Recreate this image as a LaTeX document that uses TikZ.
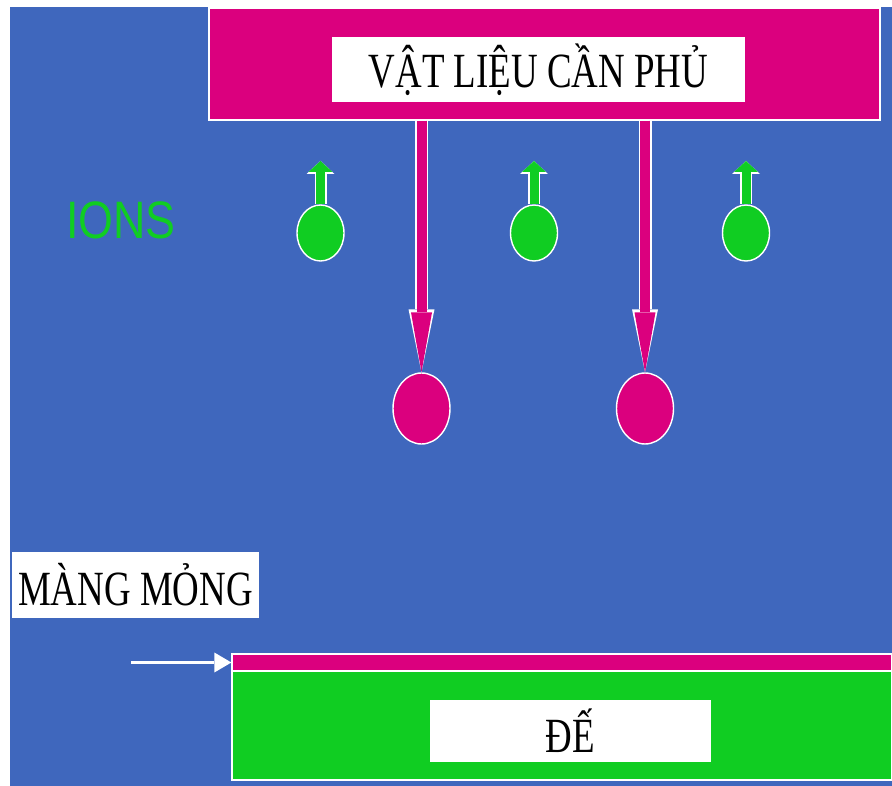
\documentclass[tikz,border=0pt]{standalone}
\usepackage{fontspec}
\setmainfont{Liberation Serif}
\newfontfamily\narrowserif[FakeStretch=0.75]{Liberation Serif}
\newfontfamily\narrowsans[FakeStretch=0.85]{Liberation Sans}
\usepackage{xcolor}
\usepackage{tikz}
\usetikzlibrary{positioning, arrows.meta, shapes.geometric}

\definecolor{bgblue}{HTML}{3F67BD}
\definecolor{coatpink}{HTML}{DB007E}
\definecolor{iongreen}{HTML}{10CD22}

\begin{document}
\begin{tikzpicture}[
            x=0.02cm, y=-0.02cm,
            slab/.style={
                    draw=white,
                    line width=0.8pt,
                    inner sep=0pt
                },
            tag/.style={
                    fill=white,
                    inner sep=0pt,
                    font=\narrowserif\fontsize{28}{30}\selectfont
                },
            atom/.style={
                    ellipse,
                    draw=white,
                    line width=0.8pt,
                    fill=coatpink,
                    minimum width=1.14cm,
                    minimum height=1.42cm,
                    inner sep=0pt
                },
            ion/.style={
                    ellipse,
                    draw=white,
                    line width=0.8pt,
                    fill=iongreen,
                    minimum width=0.94cm,
                    minimum height=1.12cm,
                    inner sep=0pt
                },
            atomarrow/.style={
                    coatpink,
                    line width=0.2cm,
                    -{Triangle[length=1.2cm,width=0.42cm,line width=0pt]},
                    preaction={draw=white, line width=0.26cm,
                            -{Triangle[length=1.26cm,width=0.52cm,line width=0pt]}}
                },
            ionarrow/.style={
                    iongreen,
                    line width=0.18cm,
                    -{Triangle[length=0.22cm,width=0.48cm,line width=0pt]},
                    preaction={draw=white, line width=0.24cm,
                            -{Triangle[length=0.26cm,width=0.56cm,line width=0pt]}}
                },
            filmarrow/.style={
                    white,
                    line width=1.6pt,
                    -{Triangle[length=0.34cm,width=0.4cm,line width=0pt]}
                }
        ]

        \fill[white] (0,0) rectangle (892,786);
        \useasboundingbox (0,0) rectangle (892,786);
        \fill[bgblue] (10,7) rectangle (892,786);


        \node[slab,fill=coatpink,minimum width=13.42cm,minimum height=2.24cm]
        (target) at (544.5,64) {};


        \node[tag,minimum width=8.26cm,minimum height=1.3cm]
        (targetlabel) at (538.5,69.5)
        {VẬT LIỆU CẦN PHỦ};


        \node[font=\narrowsans\fontsize{30}{32}\selectfont,text=iongreen]
        (ionlabel) at (121,220) {IONS};


        % ions moving up to the target
        \node[ion] (ionA) at (320.5,233) {};
        \node[ion] (ionB) at (534,233) {};
        \node[ion] (ionC) at (746,233) {};

        \coordinate (ionAup) at (320.5,161);
        \coordinate (ionBup) at (534,161);
        \coordinate (ionCup) at (746,161);

        \draw[ionarrow] (ionA.north) -- (ionAup);
        \draw[ionarrow] (ionB.north) -- (ionBup);
        \draw[ionarrow] (ionC.north) -- (ionCup);


        % sputtered atoms
        \node[atom] (atomA) at (421.5,408.5) {};
        \node[atom] (atomB) at (645,408.5) {};

        \draw[atomarrow] (target.south -| atomA) -- (atomA.north);
        \draw[atomarrow] (target.south -| atomB) -- (atomB.north);


        \node[tag,minimum width=4.94cm,minimum height=1.32cm]
        (filmlabel) at (135.5,585)
        {MÀNG MỎNG};


        \node[slab,fill=coatpink,minimum width=13.2cm,minimum height=0.34cm]
        (film) at (562,662.5) {};


        \node[slab,fill=iongreen,minimum width=13.2cm,minimum height=2.18cm]
        (substrate) at (562,725.5) {};


        \node[tag,minimum width=5.62cm,minimum height=1.24cm]
        (substratelabel) at (570.5,731)
        {ĐẾ};


        \coordinate (filmtail) at (131,662.5);
        \draw[filmarrow] (filmtail) -- (film.west);


    \end{tikzpicture}
\end{document}
